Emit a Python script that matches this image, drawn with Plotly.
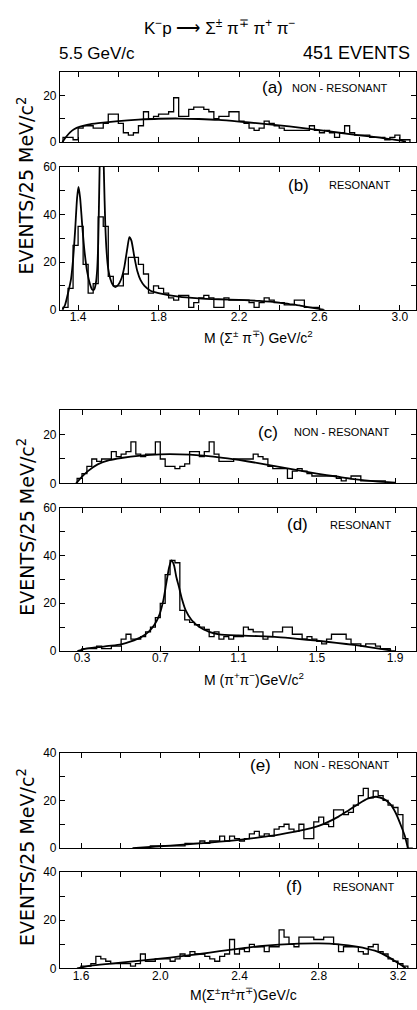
import plotly.graph_objects as go

W, H = 417, 1010
BIN = 0.025

# ---------------- data ----------------
# (a) non-resonant M(Sigma pi)
a_start = 1.325
a_counts = [2, 2, 1, 6, 7, 7, 6, 6, 8, 12,
            12, 8, 4, 3, 4, 7, 13, 10, 11, 12,
            12, 13, 19, 11, 11, 14, 15, 15, 14, 13,
            10, 11, 11, 13, 13, 9, 8, 6, 5, 6,
            9, 8, 7, 6, 5, 5, 5, 5, 5, 7,
            5, 4, 5, 4, 2, 4, 7, 4, 3, 3,
            3, 2, 2, 2, 1, 2, 3, 1, 1]
a_curve_x = [1.322, 1.34, 1.36, 1.38, 1.41, 1.45, 1.5, 1.6, 1.7, 1.8, 1.9, 2.0, 2.1, 2.2,
             2.3, 2.4, 2.5, 2.6, 2.7, 2.8, 2.9, 2.95, 3.0, 3.03]
a_curve_y = [0, 2.2, 4.2, 5.5, 6.6, 7.5, 8.1, 9, 9.6, 10, 10.1, 9.9, 9.5, 8.8,
             8, 7.2, 6.2, 5.1, 4, 2.9, 1.9, 1.3, 0.7, 0.2]

# (b) resonant M(Sigma pi)
b_start = 1.325
b_counts = [1, 9, 27, 35, 19, 7, 11, 39, 35, 14,
            10, 10, 15, 22, 22, 19, 15, 7, 10, 9,
            7, 5, 4, 6, 6, 1, 3, 5, 6, 5,
            1, 1, 5, 4, 4, 4, 4, 3, 1, 3,
            5, 4, 3, 3, 2, 2, 4, 4, 1, 1,
            1, 0]
b_curve_x = [1.322, 1.335, 1.35, 1.365, 1.375, 1.385, 1.395, 1.402, 1.41, 1.42, 1.43, 1.445,
             1.46, 1.47, 1.48, 1.488, 1.495, 1.5, 1.505, 1.51, 1.517, 1.524, 1.529, 1.535,
             1.542, 1.55, 1.56, 1.572, 1.585, 1.6, 1.615, 1.63, 1.645, 1.655, 1.665, 1.68,
             1.695, 1.71, 1.73, 1.76, 1.8, 1.9, 2.0, 2.1, 2.2, 2.3, 2.4, 2.45, 2.5, 2.55,
             2.6, 2.62]
b_curve_y = [0, 2, 7, 13, 21, 33, 47, 51.5, 47, 36, 26, 16,
             10.5, 8.5, 8.5, 11, 17, 28, 50, 72, 85, 72, 55, 36,
             24, 17, 13, 10.5, 9.5, 10.5, 13, 18, 26, 30.5, 29, 22,
             16, 12.5, 10, 8, 7, 5.5, 4.8, 4.4, 4.1, 3.7, 3.0, 2.4, 1.8, 1.0,
             0.3, 0]

# (c) non-resonant M(pi+ pi-)
c_start = 0.275
c_counts = [2, 4, 7, 10, 9, 10, 10, 13, 11, 12,
            13, 17, 12, 11, 12, 12, 17, 10, 7, 7,
            6, 7, 8, 13, 13, 11, 13, 17, 12, 9,
            9, 9, 10, 10, 10, 10, 12, 11, 10, 7,
            6, 6, 6, 2, 5, 6, 5, 4, 3, 3,
            3, 3, 3, 2, 1, 2, 3, 3, 1, 1,
            1, 1, 1, 0]
c_curve_x = [0.27, 0.3, 0.33, 0.38, 0.44, 0.5, 0.6, 0.7, 0.8, 0.9, 1.0, 1.1, 1.2, 1.3,
             1.4, 1.5, 1.6, 1.7, 1.8, 1.9]
c_curve_y = [0, 2.7, 5, 7.8, 9.5, 10.4, 11.4, 11.9, 11.9, 11.5, 10.7, 9.6, 8.3, 6.9,
             5.4, 4, 2.8, 1.6, 0.8, 0.3]

# (d) resonant M(pi+ pi-)
d_start = 0.275
d_counts = [0, 1, 1, 1, 2, 1, 1, 2, 2, 5,
            7, 5, 5, 6, 8, 10, 14, 20, 32, 38,
            37, 17, 13, 12, 11, 10, 9, 6, 8, 5,
            6, 5, 6, 6, 10, 9, 8, 8, 5, 6,
            8, 8, 10, 10, 7, 7, 5, 6, 5, 4,
            3, 5, 7, 7, 7, 5, 3, 3, 2, 3,
            3, 2, 1, 1, 0]
d_curve_x = [0.28, 0.32, 0.38, 0.45, 0.5, 0.55, 0.6, 0.64, 0.67, 0.695, 0.715, 0.73, 0.745,
             0.757, 0.77, 0.782, 0.795, 0.81, 0.83, 0.86, 0.9, 0.95, 1.0, 1.1, 1.2, 1.3,
             1.4, 1.5, 1.6, 1.7, 1.8, 1.88]
d_curve_y = [0, 1, 1.6, 2.2, 2.8, 4, 5.7, 8, 11, 15, 21, 28, 35,
             38, 36, 31, 27, 22, 17, 13, 10, 8, 7, 6.5, 6.2, 5.8,
             5.1, 4.3, 3.4, 2.4, 1.2, 0.2]

# (e) non-resonant M(Sigma pi pi)
e_start = 1.95
e_counts = [1, 1, 1, 1, 1, 1, 1, 2, 2, 2,
            3, 2, 3, 3, 5, 3, 5, 4, 3, 4,
            6, 7, 5, 6, 5, 8, 9, 10, 8, 7,
            10, 4, 4, 11, 13, 10, 9, 16, 16, 14,
            15, 18, 22, 25, 21, 24, 22, 20, 18, 17,
            14, 4, 0]
e_curve_x = [1.86, 1.95, 2.0, 2.1, 2.2, 2.3, 2.4, 2.5, 2.6, 2.7, 2.8, 2.9, 2.95, 3.0,
             3.05, 3.09, 3.13, 3.16, 3.19, 3.215, 3.235, 3.25]
e_curve_y = [0, 0.5, 0.8, 1.4, 2.0, 2.7, 3.5, 4.5, 5.7, 7.2, 9.3, 13.2, 15.8, 18.5,
             20.8, 21.5, 20.5, 18.5, 14.5, 9.5, 5, 0]

# (f) resonant M(Sigma pi pi)
f_start = 1.6
f_counts = [1, 1, 2, 5, 4, 3, 2, 2, 2, 2,
            1, 2, 6, 3, 3, 4, 4, 4, 3, 4,
            6, 5, 7, 6, 6, 5, 4, 3, 5, 6,
            12, 6, 8, 7, 10, 9, 9, 7, 9, 9,
            16, 13, 10, 9, 13, 13, 13, 12, 12, 13,
            13, 10, 7, 9, 9, 9, 7, 6, 9, 10,
            7, 6, 4, 3, 2, 1]
f_curve_x = [1.58, 1.65, 1.75, 1.85, 2.0, 2.1, 2.2, 2.3, 2.4, 2.5, 2.6, 2.7, 2.8, 2.9,
             3.0, 3.05, 3.1, 3.15, 3.19, 3.22, 3.24]
f_curve_y = [0, 1.2, 2.0, 2.8, 4.1, 5.0, 6.0, 7.2, 8.2, 9.2, 9.9, 10.3, 10.4, 10.0,
             8.9, 8.0, 6.9, 4.8, 2.8, 1.2, 0]

# tick labels
x_ticks_ab = [1.4, 1.6, 1.8, 2.0, 2.2, 2.4, 2.6, 2.8, 3.0]
x_labels_b = ["1.4", "", "1.8", "", "2.2", "", "2.6", "", "3.0"]
x_ticks_cd = [0.3, 0.5, 0.7, 0.9, 1.1, 1.3, 1.5, 1.7, 1.9]
x_labels_d = ["0.3", "", "0.7", "", "1.1", "", "1.5", "", "1.9"]
x_ticks_ef = [1.6, 1.8, 2.0, 2.2, 2.4, 2.6, 2.8, 3.0, 3.2]
x_labels_f = ["1.6", "", "2.0", "", "2.4", "", "2.8", "", "3.2"]
y_ticks_30 = [0, 10, 20, 30]
y_labels_30 = ["0", "", "20", ""]
y_ticks_60 = [0, 10, 20, 30, 40, 50, 60]
y_labels_60 = ["0", "", "20", "", "40", "", "60"]
y_ticks_40 = [0, 10, 20, 30, 40]
y_labels_40 = ["0", "", "20", "", "40"]

# ---------------- figure ----------------
def steps(start, counts):
    xs, ys = [start], [0]
    for i, c in enumerate(counts):
        xs.append(start + i * BIN)
        ys.append(c)
    xs.append(start + len(counts) * BIN)
    ys.append(0)
    return xs, ys

panels = [
    (a_start, a_counts, a_curve_x, a_curve_y, [1.310, 3.080], x_ticks_ab, [""] * 9, 30, y_ticks_30, y_labels_30, 66, 137),
    (b_start, b_counts, b_curve_x, b_curve_y, [1.310, 3.080], x_ticks_ab, x_labels_b, 60, y_ticks_60, y_labels_60, 162, 307),
    (c_start, c_counts, c_curve_x, c_curve_y, [0.1875, 2.007], x_ticks_cd, [""] * 9, 30, y_ticks_30, y_labels_30, 409, 483),
    (d_start, d_counts, d_curve_x, d_curve_y, [0.1875, 2.007], x_ticks_cd, x_labels_d, 60, y_ticks_60, y_labels_60, 508, 653),
    (e_start, e_counts, e_curve_x, e_curve_y, [1.494, 3.291], x_ticks_ef, [""] * 9, 40, y_ticks_40, y_labels_40, 756, 853),
    (f_start, f_counts, f_curve_x, f_curve_y, [1.494, 3.291], x_ticks_ef, x_labels_f, 40, y_ticks_40, y_labels_40, 877, 975),
]

fig = go.Figure()
tickfont = dict(family="Liberation Sans", size=12, color="black")
layout = dict(width=W, height=H, margin=dict(l=0, r=0, t=0, b=0), autosize=False,
              paper_bgcolor="white", plot_bgcolor="white", showlegend=False)

for k, (st, cnt, cx, cy, xr, xt, xl, ymax, yt, yl, top, bot) in enumerate(panels, start=1):
    sx, sy = steps(st, cnt)
    xa = "x" if k == 1 else f"x{k}"
    ya = "y" if k == 1 else f"y{k}"
    fig.add_trace(go.Scatter(x=sx, y=sy, mode="lines", line=dict(color="black", width=1.3, shape="hv"),
                             xaxis=xa, yaxis=ya, hoverinfo="skip"))
    fig.add_trace(go.Scatter(x=cx, y=cy, mode="lines",
                             line=dict(color="black", width=1.8, shape="spline", smoothing=0.6),
                             xaxis=xa, yaxis=ya, hoverinfo="skip"))
    common = dict(showline=True, linecolor="black", linewidth=1.2, mirror="allticks",
                  ticks="inside", ticklen=5, tickwidth=1, tickcolor="black",
                  showgrid=False, zeroline=False, tickfont=tickfont, fixedrange=True)
    layout["xaxis" if k == 1 else f"xaxis{k}"] = dict(
        domain=[60 / W, 416 / W], range=xr, tickmode="array", tickvals=xt, ticktext=xl,
        anchor=ya, ticklabelstandoff=-4, **common)
    layout["yaxis" if k == 1 else f"yaxis{k}"] = dict(
        domain=[1 - bot / H, 1 - top / H], range=[0, ymax], tickmode="array", tickvals=yt,
        ticktext=yl, anchor=xa, **common)

def ann(text, px, py, size, family="Liberation Sans", angle=0, xanchor="center"):
    return dict(text=text, x=px / W, y=1 - py / H, xref="paper", yref="paper", showarrow=False,
                xanchor=xanchor, yanchor="middle", textangle=angle,
                font=dict(family=family, size=size, color="black"))

annotations = [
    ann("K<sup>−</sup>p ⟶ Σ<sup>±</sup> π<sup>∓</sup> π<sup>+</sup> π<sup>−</sup>", 220, 20, 17),
    ann("5.5 GeV/c", 97, 47, 17),
    ann("451 EVENTS", 356, 47, 18),
    ann("(a)", 272, 82, 17), ann("NON - RESONANT", 340, 82, 11),
    ann("(b)", 298, 181, 17), ann("RESONANT", 359, 181, 11),
    ann("(c)", 268, 431, 17), ann("NON - RESONANT", 342, 431, 11),
    ann("(d)", 297, 525, 17), ann("RESONANT", 360, 525, 11),
    ann("(e)", 260, 769, 17), ann("NON - RESONANT", 342, 769, 11),
    ann("(f)", 294, 892, 17), ann("RESONANT", 363, 892, 11),
    ann("M (Σ<sup>±</sup> π<sup>∓</sup>) GeV/c<sup>2</sup>", 258, 335, 14),
    ann("M (π<sup>+</sup>π<sup>−</sup>)GeV/c<sup>2</sup>", 254, 681, 14),
    ann("M(Σ<sup>±</sup>π<sup>±</sup>π<sup>∓</sup>)GeV/c", 243, 1001, 14),
    ann("EVENTS/25 MeV/c<sup>2</sup>", 26, 181, 19, family="DejaVu Sans", angle=-90),
    ann("EVENTS/25 MeV/c<sup>2</sup>", 26, 527, 19, family="DejaVu Sans", angle=-90),
    ann("EVENTS/25 MeV/c<sup>2</sup>", 26, 862, 19, family="DejaVu Sans", angle=-90),
]
layout["annotations"] = annotations
fig.update_layout(**layout)
fig.write_html("out.html")
